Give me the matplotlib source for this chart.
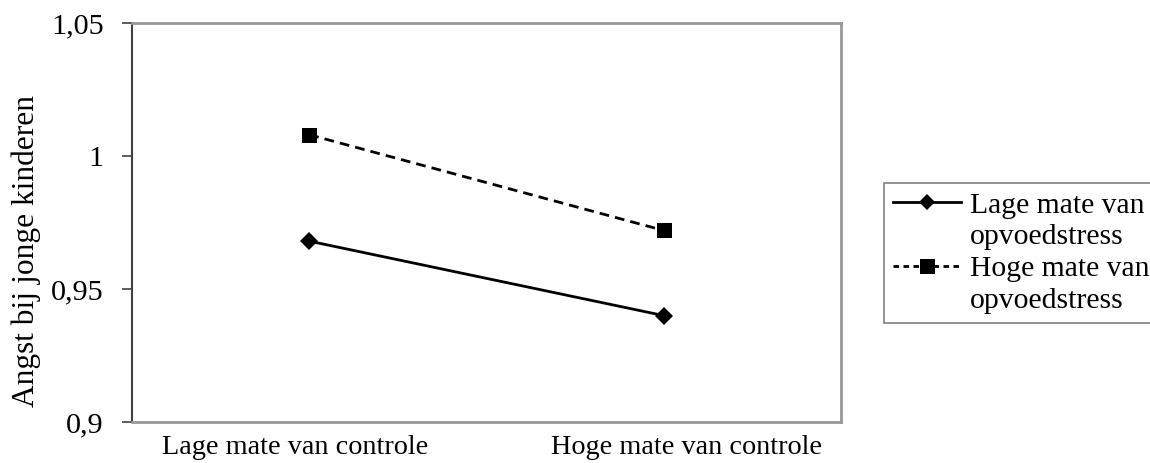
import matplotlib
matplotlib.use("Agg")
import matplotlib.pyplot as plt
from matplotlib.lines import Line2D

categories = ["Lage mate van controle", "Hoge mate van controle"]
series_names = ["Lage mate van\nopvoedstress", "Hoge mate van\nopvoedstress"]
lage_stress = [0.968, 0.940]
hoge_stress = [1.008, 0.972]
yticks = [0.9, 0.95, 1.0, 1.05]
ytick_labels = ["0,9", "0,95", "1", "1,05"]
ylabel = "Angst bij jonge kinderen"

plt.rcParams['font.family'] = ['Liberation Serif', 'DejaVu Serif']
FS_X = 20.3
FS_Y = 21.8
FS_LAB = 22.6
FS_LEG = 21.3

fig = plt.figure(figsize=(11.5, 4.63), dpi=100)
ax = fig.add_axes([132/1150, 1-422/463, (841-132)/1150, (422-23)/463])

x = list(range(len(categories)))
l1, = ax.plot(x, lage_stress, color='black', lw=2.0, marker='D', ms=9.2,
              markeredgewidth=0)
l2, = ax.plot(x, hoge_stress, color='black', lw=2.0, ls=(0, (3.5, 2.2)),
              marker='s', ms=10.8, markeredgewidth=0)

ax.set_xlim(-0.5, 1.5)
ax.set_ylim(0.9, 1.05)
ax.set_yticks(yticks)
ax.set_yticklabels(ytick_labels, fontsize=FS_Y)
ax.tick_params(axis='y', direction='out', length=7, width=1.2, color='#404040',
               pad=13.5)
# Excel places category labels slightly off-centre
ax.set_xticks([-0.04, 1.065])
ax.set_xticklabels(categories, fontsize=FS_X)
ax.tick_params(axis='x', length=0, pad=9)

for s in ['top', 'right', 'bottom']:
    ax.spines[s].set_color('#989898')
    ax.spines[s].set_linewidth(2.0)
ax.spines['left'].set_color('#404040')
ax.spines['left'].set_linewidth(1.5)

fig.text(26/1150, 1-251/463, ylabel, rotation=90, ha='center', va='center',
         fontsize=FS_LAB)

blank = Line2D([], [], color='none')
h1 = Line2D([], [], color='black', lw=2.0, marker='D', ms=8.5, markeredgewidth=0)
h2 = Line2D([], [], color='black', lw=2.0, ls=(0, (2.0, 1.6)), marker='s',
            ms=10.8, markeredgewidth=0)
labels = []
for n in series_names:
    labels.extend(n.split("\n"))
leg = fig.legend([h1, blank, h2, blank], labels, loc='upper left',
                 bbox_to_anchor=(884/1150, 1-183/463), fontsize=FS_LEG,
                 frameon=True, fancybox=False, edgecolor='#606060',
                 borderpad=0.3, labelspacing=0.17, handlelength=2.3,
                 handletextpad=0.3, borderaxespad=0)
leg.get_frame().set_linewidth(1.2)

fig.savefig("out.png", dpi=100)
